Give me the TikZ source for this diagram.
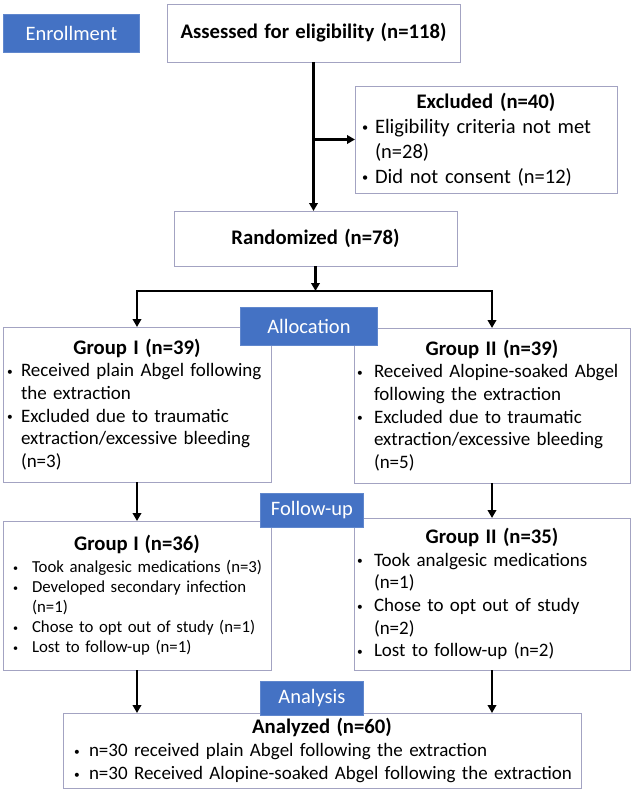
\documentclass[tikz,border=0pt]{standalone}
\usepackage{fontspec}
\setmainfont{Carlito}
\usetikzlibrary{arrows.meta}

\definecolor{stageblue}{HTML}{4472C4}
\definecolor{rimgray}{HTML}{A3A3C2}

\newlength\bulx
\newlength\txtx
\newcommand\dotmark{\raisebox{0.15ex}{\scalebox{0.6}{\textbullet}}}
\newcommand\bul[1]{\hspace*{\bulx}\makebox[\dimexpr\txtx-\bulx\relax][l]{\dotmark}#1}
\newcommand\cont[1]{\hspace*{\txtx}#1}
\newcommand\hd[2][20.7]{\makebox[\linewidth]{\fontsize{#1}{22}\selectfont\bfseries #2}}

\tikzset{
  indents/.code 2 args={\setlength\bulx{#1}\setlength\txtx{#2}},
  bodyfont/.style 2 args={font=\fontsize{#1}{#2}\selectfont},
  link/.style={draw,line width=2.7pt,-{Triangle[length=8pt,width=8.5pt]}},
}

\begin{document}
\begin{tikzpicture}[x=1pt,y=-1pt]

        \useasboundingbox (0,0) rectangle (637,793);

        \begin{scope}[every node/.style={draw=rimgray,line width=0.9pt,fill=white,anchor=north west,
            inner sep=0pt,outer sep=0pt,align=left,bodyfont={19}{22.7}}]
          \node[text width=293pt,minimum height=58pt] (assess) at (167,4)
            {\hd{Assessed for eligibility (n=118)}};
          \node[text width=262pt,minimum height=107pt,bodyfont={20.5}{25},indents={7pt}{20pt}] (excl) at (355,86)
            {\hd{Excluded (n=40)}\\
             \bul{Eligibility criteria not met}\\
             \cont{(n=28)}\\
             \bul{Did not consent (n=12)}};
          \node[text width=283pt,minimum height=55pt] (rand) at (174,211)
            {\hd{Randomized (n=78)}};
          \node[text width=268pt,minimum height=155pt,indents={4pt}{18pt}] (g1a) at (3,327)
            {\hd{Group I (n=39)}\\
             \bul{Received plain Abgel following}\\
             \cont{the extraction}\\
             \bul{Excluded due to traumatic}\\
             \cont{extraction/excessive bleeding}\\
             \cont{(n=3)}};
          \node[text width=276pt,minimum height=155pt,indents={3pt}{20pt}] (g2a) at (354,328)
            {\hd{Group II (n=39)}\\
             \bul{Received Alopine-soaked Abgel}\\
             \cont{following the extraction}\\
             \bul{Excluded due to traumatic}\\
             \cont{extraction/excessive bleeding}\\
             \cont{(n=5)}};
          \node[text width=268pt,minimum height=149pt,bodyfont={16.8}{20},indents={10pt}{29pt}] (g1b) at (3,521)
            {\hd{Group I (n=36)}\\[2pt]
             \bul{Took analgesic medications (n=3)}\\
             \bul{Developed secondary infection}\\
             \cont{(n=1)}\\
             \bul{Chose to opt out of study (n=1)}\\
             \bul{Lost to follow-up (n=1)}};
          \node[text width=276pt,minimum height=152pt,indents={3pt}{20pt}] (g2b) at (354,518)
            {\hd{Group II (n=35)}\\
             \bul{Took analgesic medications}\\
             \cont{(n=1)}\\
             \bul{Chose to opt out of study}\\
             \cont{(n=2)}\\
             \bul{Lost to follow-up (n=2)}};
          \node[text width=518pt,minimum height=75pt,bodyfont={19}{23},indents={11pt}{26pt}] (anl) at (63,713)
            {\hd{Analyzed (n=60)}\\
             \bul{n=30 received plain Abgel following the extraction}\\
             \bul{n=30 Received Alopine-soaked Abgel following the extraction}};
        \end{scope}

        \coordinate (fork) at (rand.south |- 0,291);

        \begin{scope}[every edge/.style={link}]
          \path (assess.south) edge (assess.south |- rand.north);
          \path (assess.south |- excl.west) edge (excl.west);
          \path (rand.south) edge (fork);
          \path (g1a) edge (g1b);
          \path (g2a) edge (g2b);
          \path (g1b.south) edge (g1b.south |- anl.north);
          \path (g2b.south) edge (g2b.south |- anl.north);
        \end{scope}
        \draw[link] (fork) -| (g1a);
        \draw[link] (fork) -| (g2a);

        \begin{scope}[every node/.style={fill=stageblue,draw=stageblue!85!white,line width=0.9pt,text=white,
            anchor=north west,inner sep=0pt,font=\fontsize{20.5}{24}\selectfont}]
          \node[minimum width=136pt,minimum height=38pt] (enrol) at (3,14) {Enrollment};
          \node[minimum width=137pt,minimum height=38pt] (alloc) at (240,307) {Allocation};
          \node[minimum width=103pt,minimum height=34pt] (follow) at (260,493) {Follow-up};
          \node[minimum width=103pt,minimum height=34pt] (analysis) at (260,681) {Analysis};
        \end{scope}

\end{tikzpicture}
\end{document}
